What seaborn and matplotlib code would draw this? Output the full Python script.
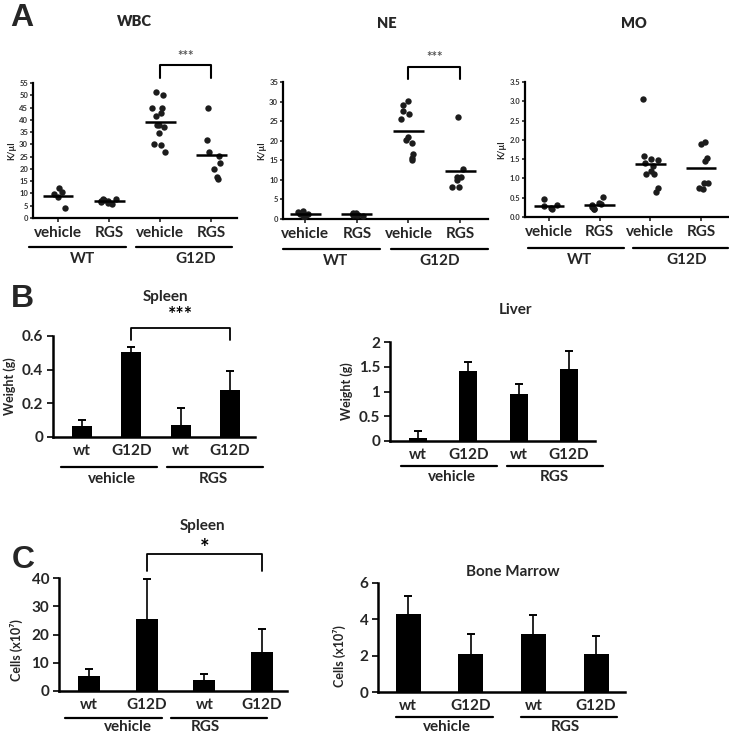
import numpy as np
import pandas as pd
import seaborn as sns
import matplotlib.pyplot as plt
from matplotlib import transforms

# panel A: blood counts (K/ul), one list per group
wbc_wt_vehicle = [12.1, 10.7, 9.8, 8.4, 3.9]
wbc_wt_rgs = [7.9, 7.6, 7.3, 7.0, 6.8, 6.5, 6.2, 5.8]
wbc_g12d_vehicle = [51.4, 50.0, 45.0, 45.0, 42.6, 41.5, 37.8, 37.8, 37.2, 34.7, 30.1, 29.7, 26.8]
wbc_g12d_rgs = [45.0, 31.8, 26.8, 25.4, 22.3, 19.9, 15.8, 16.9]

ne_wt_vehicle = [2.1, 1.7, 1.4, 1.1, 0.9, 1.3, 0.5]
ne_wt_rgs = [1.6, 1.4, 1.2, 1.0, 0.8, 1.1, 1.5, 0.9]
ne_g12d_vehicle = [30.2, 29.1, 27.6, 26.9, 25.5, 21.0, 20.3, 19.3, 16.7, 15.0, 15.5]
ne_g12d_rgs = [26.1, 12.7, 10.8, 10.8, 9.9, 8.1, 8.1]

mo_wt_vehicle = [0.47, 0.30, 0.28, 0.21, 0.23]
mo_wt_rgs = [0.51, 0.36, 0.33, 0.30, 0.26, 0.22, 0.20]
mo_g12d_vehicle = [3.07, 1.57, 1.50, 1.41, 1.48, 1.31, 1.20, 1.12, 1.12, 0.75, 0.64]
mo_g12d_rgs = [1.94, 1.89, 1.53, 1.45, 0.89, 0.89, 0.72, 0.75]

a_groups = ['WT vehicle', 'WT RGS', 'G12D vehicle', 'G12D RGS']
a_ticklabels = ['vehicle', 'RGS', 'vehicle', 'RGS']

# panels B and C: bar means and upper error
bar_groups = ['vehicle wt', 'vehicle G12D', 'RGS wt', 'RGS G12D']
bar_ticklabels = ['wt', 'G12D', 'wt', 'G12D']

spleen_weight = [0.065, 0.505, 0.07, 0.28]
spleen_weight_err = [0.035, 0.03, 0.10, 0.115]
liver_weight = [0.07, 1.42, 0.94, 1.46]
liver_weight_err = [0.14, 0.18, 0.21, 0.36]
spleen_cells = [5.3, 25.6, 3.8, 13.8]
spleen_cells_err = [2.5, 14.0, 2.3, 8.2]
marrow_cells = [4.28, 2.11, 3.21, 2.11]
marrow_cells_err = [0.99, 1.06, 1.05, 0.99]

sns.set_style('ticks')
plt.rcParams['font.family'] = ['Lato', 'DejaVu Sans']
np.random.seed(3)  # fixed jitter for the dot plots

W, H = 729, 735
fig = plt.figure(figsize=(W / 100, H / 100), dpi=100)


def px_axes(x0, y0, x1, y1):
    return fig.add_axes([x0 / W, 1 - y1 / H, (x1 - x0) / W, (y1 - y0) / H])


def style_spines(ax, lw):
    sns.despine(ax=ax)
    for side in ['left', 'bottom']:
        ax.spines[side].set_linewidth(lw)
        ax.spines[side].set_color('black')


def group_labels(ax, spans, names, centers, y_line, y_text, size):
    trans = transforms.blended_transform_factory(ax.transData, fig.transFigure)
    for (a, b), name, c in zip(spans, names, centers):
        ax.plot([a, b], [1 - y_line / H] * 2, color='black', lw=1.6,
                transform=trans, clip_on=False)
        ax.text(c, 1 - y_text / H, name, transform=trans, ha='center', va='center',
                fontsize=size, fontweight='bold')


def bracket(ax, x0, x1, y_top, y_bot, stars, y_star, size, color='black', lw=1.3):
    ax.plot([x0, x0, x1, x1], [y_bot, y_top, y_top, y_bot], color='black',
            lw=lw, clip_on=False)
    ax.text((x0 + x1) / 2, y_star, stars, ha='center', va='center', fontsize=size,
            fontweight='bold', color=color)


def scatter_panel(box, series, ymax, step, xlim, title, title_xy, spans, centers,
                  y_line, y_text, star=None):
    ax = px_axes(*box)
    rows = []
    for g, vals in zip(a_groups, series):
        rows += [(g, v) for v in vals]
    df = pd.DataFrame(rows, columns=['group', 'value'])
    sns.stripplot(data=df, x='group', y='value', order=a_groups, color='#1c1c1c',
                  size=4.6, jitter=0.17, ax=ax)
    for i, vals in enumerate(series):
        ax.hlines(np.mean(vals), i - 0.3, i + 0.3, color='black', lw=1.8, zorder=5)
    ax.set_xlim(*xlim)
    ax.set_ylim(0, ymax)
    ticks = np.arange(0, ymax + step / 2, step)
    ax.set_yticks(ticks)
    if step < 1:
        ax.set_yticklabels([f'{t:.1f}' for t in ticks])
    else:
        ax.set_yticklabels([f'{t:g}' for t in ticks])
    ax.set_xticks(range(4))
    ax.set_xticklabels(a_ticklabels)
    ax.set_xlabel('')
    ax.set_ylabel('K/µl', fontsize=6.5, fontweight='bold', labelpad=2)
    ax.tick_params(axis='y', length=2.5, width=1.2, labelsize=5.5, pad=1)
    ax.tick_params(axis='x', length=3, width=1.2, labelsize=11, pad=3)
    for lab in ax.get_yticklabels():
        lab.set_fontweight('bold')
        lab.set_color('#333333')
    for lab in ax.get_xticklabels():
        lab.set_fontweight('bold')
    style_spines(ax, 1.6)
    fig.text(title_xy[0] / W, 1 - title_xy[1] / H, title, ha='center', va='center',
             fontsize=10.5, fontweight='heavy', color='#262626')
    group_labels(ax, spans, ['WT', 'G12D'], centers, y_line, y_text, 11)
    if star is not None:
        bracket(ax, 2, 3, star[0], star[1], '***', star[2], 9.5, color='#555555', lw=1.5)
    return ax


def bar_panel(box, vals, errs, ymax, step, xlim, width, ylabel, title, title_xy,
              spans, centers, y_line, y_text, tick_fmt='{:g}'):
    ax = px_axes(*box)
    sns.barplot(x=bar_groups, y=vals, order=bar_groups, color='black', saturation=1,
                width=width, errorbar=None, linewidth=0, ax=ax)
    # upper error only: stem plus a small cap
    tops = np.array(vals) + np.array(errs)
    ax.vlines(range(4), vals, tops, color='black', lw=1.2, zorder=3)
    ax.errorbar(range(4), tops, yerr=0, fmt='none', ecolor='black', elinewidth=0,
                capsize=2.8, capthick=1.2, zorder=3)
    ax.set_xlim(*xlim)
    ax.set_ylim(0, ymax)
    ticks = np.arange(0, ymax + step / 2, step)
    ax.set_yticks(ticks)
    ax.set_yticklabels([tick_fmt.format(t) for t in ticks])
    ax.set_xticks(range(4))
    ax.set_xticklabels(bar_ticklabels)
    ax.tick_params(axis='x', length=0, labelsize=11, pad=5)
    ax.tick_params(axis='y', length=4, width=1.4, labelsize=11, pad=3)
    for lab in ax.get_xticklabels() + ax.get_yticklabels():
        lab.set_fontweight('bold')
    ax.set_ylabel(ylabel, fontsize=9, fontweight='bold')
    style_spines(ax, 1.8)
    fig.text(title_xy[0] / W, 1 - title_xy[1] / H, title, ha='center', va='center',
             fontsize=11, fontweight='bold')
    group_labels(ax, spans, ['vehicle', 'RGS'], centers, y_line, y_text, 11)
    return ax


# ---- A ----
scatter_panel((33, 83, 237, 218),
              [wbc_wt_vehicle, wbc_wt_rgs, wbc_g12d_vehicle, wbc_g12d_rgs],
              55, 5, (-0.49, 3.5), 'WBC', (134, 22),
              [(-0.57, 1.33), (1.53, 3.41)], [0.47, 2.69], 247, 259,
              star=(62.3, 57.0, 65.8))
scatter_panel((283, 82, 488, 219),
              [ne_wt_vehicle, ne_wt_rgs, ne_g12d_vehicle, ne_g12d_rgs],
              35, 5, (-0.43, 3.54), 'NE', (387, 23),
              [(-0.43, 1.45), (1.66, 3.54)], [0.58, 2.61], 249, 261,
              star=(38.8, 35.8, 41.4))
scatter_panel((525, 82, 728, 217),
              [mo_wt_vehicle, mo_wt_rgs, mo_g12d_vehicle, mo_g12d_rgs],
              3.5, 0.5, (-0.47, 3.53), 'MO', (634, 23),
              [(-0.41, 1.48), (1.66, 3.53)], [0.61, 2.72], 248, 260)

# ---- B ----
ax = bar_panel((53, 336, 255, 437), spleen_weight, spleen_weight_err, 0.6, 0.2,
               (-0.59, 3.51), 0.41, 'Weight (g)', 'Spleen', (166, 297),
               [(-0.43, 1.52), (1.72, 3.67)], [0.6, 2.66], 467, 479)
bracket(ax, 1, 3, 0.649, 0.577, '***', 0.73, 14)
bar_panel((390, 342, 595, 441), liver_weight, liver_weight_err, 2, 0.5,
          (-0.56, 3.52), 0.36, 'Weight (g)', 'Liver', (515, 310),
          [(-0.34, 1.57), (1.77, 3.68)], [0.68, 2.72], 466, 477)

# ---- C ----
ax = bar_panel((59, 578, 287, 691), spleen_cells, spleen_cells_err, 40, 10,
               (-0.52, 3.43), 0.38, 'Cells (x10⁷)', 'Spleen', (203, 526),
               [(-0.42, 1.27), (1.42, 3.08)], [0.68, 2.01], 718, 727)
ax.yaxis.set_label_coords(-0.16, 0.36)
bracket(ax, 1, 3, 48.5, 42.5, '*', 50.5, 16)
ax = bar_panel((378, 583, 625, 692), marrow_cells, marrow_cells_err, 6, 2,
               (-0.48, 3.46), 0.40, 'Cells (x10⁷)', 'Bone Marrow', (513, 572),
               [(-0.19, 1.36), (1.80, 3.33)], [0.62, 2.50], 717, 727)
ax.yaxis.set_label_coords(-0.13, 0.33)

for letter, (x, y) in {'A': (22, 18), 'B': (22, 299), 'C': (23, 560)}.items():
    fig.text(x / W, 1 - y / H, letter, ha='center', va='center', fontsize=23,
             fontweight='bold', family=['Liberation Sans', 'DejaVu Sans'])

fig.savefig('out.png', dpi=100)
